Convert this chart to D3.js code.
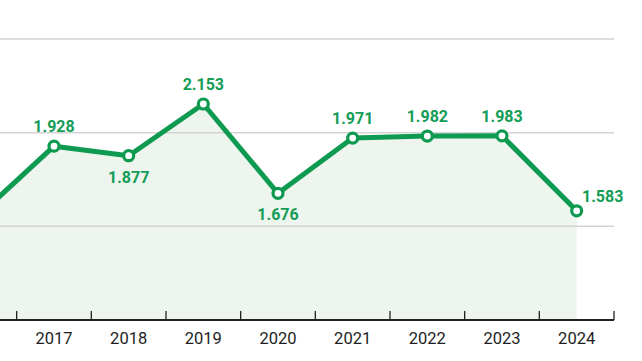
<!DOCTYPE html>
<html>
<head>
<meta charset="utf-8">
<script src="https://cdn.jsdelivr.net/npm/d3@7"></script>
<style>
  html, body { margin: 0; padding: 0; background: #fff; }
  svg { display: block; }
</style>
</head>
<body>
<svg id="chart" width="642" height="361"></svg>
<script>
const years = ["2016", "2017", "2018", "2019", "2020", "2021", "2022", "2023", "2024"];
const values = [1.56, 1.928, 1.877, 2.153, 1.676, 1.971, 1.982, 1.983, 1.583];
const valueLabels = ["", "1.928", "1.877", "2.153", "1.676", "1.971", "1.982", "1.983", "1.583"];
const labelPos = ["above", "above", "below", "above", "below", "above", "above", "above", "right"];
const tickYears = ["2017", "2018", "2019", "2020", "2021", "2022", "2023", "2024"];
const gridValues = [1.5, 2.0, 2.5];

const svg = d3.select("#chart");

const x = d3.scaleBand().domain(years).range([-58, 614]).padding(0);
const y = d3.scaleLinear().domain([1.0, 2.5]).range([320, 39]);

const green = "#0e9a50";
const labelGreen = "#139d56";

const cx = d => x(d) + x.bandwidth() / 2;
const data = years.map((yr, i) => ({ yr, v: values[i], lab: valueLabels[i], pos: labelPos[i] }));

// area
svg.append("path")
  .datum(data)
  .attr("fill", "#eef5ef")
  .attr("d", d3.area().x(d => cx(d.yr)).y0(y(1.0)).y1(d => y(d.v)));

// grid
svg.append("g").selectAll("line").data(gridValues).join("line")
  .attr("x1", 0).attr("x2", 614)
  .attr("y1", d => y(d)).attr("y2", d => y(d))
  .attr("stroke", "#d3d3d3").attr("stroke-width", 1.5);

// axis
const axis = d3.axisBottom(x).tickValues(tickYears).tickSize(0).tickPadding(12);
const gx = svg.append("g").attr("transform", `translate(0,${y(1.0)})`).call(axis);
gx.select(".domain").remove();
gx.selectAll("text")
  .attr("font-family", "Roboto, 'Open Sans', sans-serif")
  .attr("font-size", 16.5)
  .attr("fill", "#1e1e1e");
svg.append("line").attr("x1", 0).attr("x2", 614).attr("y1", y(1.0)).attr("y2", y(1.0))
  .attr("stroke", "#222").attr("stroke-width", 2);
const boundaries = years.slice(1).map(d => x(d)).concat([x(years[years.length - 1]) + x.bandwidth()]);
svg.append("g").selectAll("line").data(boundaries).join("line")
  .attr("x1", d => d).attr("x2", d => d)
  .attr("y1", y(1.0) - 9).attr("y2", y(1.0))
  .attr("stroke", "#222").attr("stroke-width", 1.3);

// line
svg.append("path")
  .datum(data)
  .attr("fill", "none")
  .attr("stroke", green)
  .attr("stroke-width", 5)
  .attr("stroke-linejoin", "round")
  .attr("d", d3.line().x(d => cx(d.yr)).y(d => y(d.v)));

// markers
svg.append("g").selectAll("circle").data(data).join("circle")
  .attr("cx", d => cx(d.yr)).attr("cy", d => y(d.v))
  .attr("r", 5)
  .attr("fill", "#fff")
  .attr("stroke", green)
  .attr("stroke-width", 3.2);

// labels
svg.append("g").selectAll("text").data(data.filter(d => d.lab)).join("text")
  .attr("x", d => d.pos === "right" ? cx(d.yr) + 26 : cx(d.yr))
  .attr("y", d => d.pos === "above" ? y(d.v) - 14 : d.pos === "below" ? y(d.v) + 27 : y(d.v) - 9)
  .attr("text-anchor", "middle")
  .attr("font-family", "Roboto, 'Open Sans', sans-serif")
  .attr("font-weight", 700)
  .attr("font-size", 16)
  .attr("fill", labelGreen)
  .text(d => d.lab);
</script>
</body>
</html>
